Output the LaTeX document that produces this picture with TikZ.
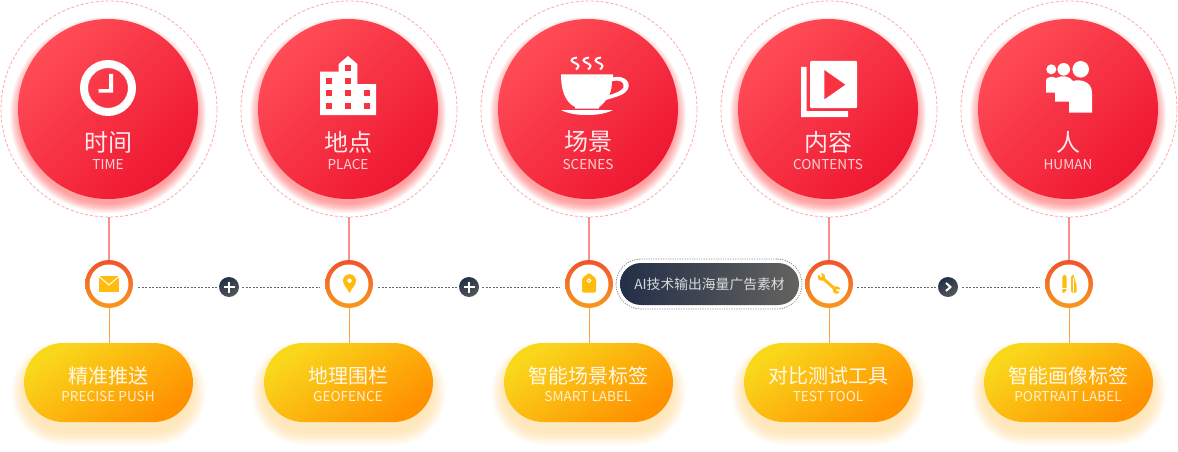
\documentclass[tikz,border=0pt]{standalone}
\usepackage{fontspec}
\setmainfont{Noto Sans CJK SC}
\definecolor{redA}{HTML}{FF4C56}
\definecolor{redB}{HTML}{EE1731}
\definecolor{yelA}{HTML}{F9D81C}
\definecolor{yelB}{HTML}{FF9000}
\definecolor{ringA}{HTML}{F0532B}
\definecolor{ringB}{HTML}{F9981C}
\definecolor{slateA}{HTML}{232F48}
\definecolor{slateB}{HTML}{63635F}
\definecolor{iconY}{HTML}{FFBB0E}
\definecolor{holeR}{HTML}{F8323F}
\begin{document}
\begin{tikzpicture}[x=1pt,y=-1pt,
        ringline/.style={draw=red!35!white,line width=.8pt,dash pattern=on 3pt off 2pt},
        bigdisc/.style={circle,inner sep=0,minimum size=180pt,top color=redA,bottom color=redB,shading angle=45},
        midring/.style={circle,inner sep=0,minimum size=48pt,top color=ringA,bottom color=ringB},
        midhole/.style={circle,inner sep=0,minimum size=39pt,fill=white},
        pilltag/.style={rounded corners=39.5pt,inner sep=0,minimum width=169pt,minimum height=79pt,top color=yelA,bottom color=yelB,shading angle=35},
        joinbtn/.style={circle,inner sep=0,minimum size=20pt,left color=slateA,right color=slateB!80!slateA,shading angle=30},
        titletxt/.style={text=white,text opacity=.9,font=\fontsize{24}{24}\selectfont,inner sep=0},
        subtxt/.style={text=white,text opacity=.8,font=\fontsize{13.6}{14}\selectfont,inner sep=0},
        pilltxt/.style={text=white,text opacity=.9,font=\fontsize{20}{20}\selectfont,inner sep=0},
        uplink/.style={draw=red!45!white,line width=1.5pt},
        lowlink/.style={draw=orange!75!white,line width=1pt},
        dotlink/.style={draw=black!60,line width=1pt,dash pattern=on 2pt off 1.5pt}
    ]
    \useasboundingbox (0,0) rectangle (1178,452);
    % five columns
    \foreach \i/\x/\tt/\st/\pt/\qt in {1/108/时间/TIME/精准推送/PRECISE PUSH,
            2/348/地点/PLACE/地理围栏/GEOFENCE,
            3/588/场景/SCENES/智能场景标签/SMART LABEL,
            4/828/内容/CONTENTS/对比测试工具/TEST TOOL,
            5/1068/人/HUMAN/智能画像标签/PORTRAIT LABEL}{
        \node[circle,inner sep=0,minimum size=216pt,ringline] (ring\i) at (\x+1,109) {};
        \foreach \k in {9,8,...,0}
            \fill[red!80!white,opacity=.06] (\x,115) circle ({89+\k});
        \node[bigdisc] (disc\i) at (\x,109) {};
        \node[titletxt] (title\i) at (\x,142) {\tt};
        \node[subtxt] (sub\i) at (\x,165) {\st};
        \foreach \k in {24,23,...,0}
            \fill[orange!70!yellow,opacity=.012,rounded corners={39.5+\k*.55}]
                ({\x+.5-84.5-\k*.55},{393-39.5-\k*.55}) rectangle ({\x+.5+84.5+\k*.55},{393+39.5+\k*.55});
        \node[pilltag] (pill\i) at (\x+.5,382.5) {};
        \node[pilltxt] (ptitle\i) at (\x,375.5) {\pt};
        \node[subtxt] (psub\i) at (\x,397) {\qt};
        \node[midring] (mid\i) at (\x+1,284) {};
        \draw[uplink] (mid\i |- ring\i.south) -- (mid\i.north);
        \draw[lowlink] (mid\i.south) -- (mid\i |- pill\i.north);
        \node[midhole] (hole\i) at (mid\i) {};
    }
    % buttons between the columns
    \node[joinbtn] (join1) at (229,287) {};
    \node[joinbtn] (join2) at (469,287) {};
    \node[joinbtn] (join3) at (948,287) {};
    \foreach \i in {1,2}
        \draw[white,line width=2pt] ([xshift=-5.5pt]join\i.center) -- ([xshift=5.5pt]join\i.center)
            ([yshift=-5.5pt]join\i.center) -- ([yshift=5.5pt]join\i.center);
    \draw[white,line width=2pt] (946,283) -- (950.5,287) -- (946,291);
    \draw[dotlink,shorten <=5pt] (mid1.east |- join1) -- (join1.west);
    \draw[dotlink,shorten <=3pt,shorten >=5pt] (join1.east) -- (mid2.west |- join1);
    \draw[dotlink,shorten <=5pt] (mid2.east |- join2) -- (join2.west);
    \draw[dotlink,shorten <=3pt,shorten >=5pt] (join2.east) -- (mid3.west |- join2);
    \draw[dotlink,shorten <=4pt] (mid4.east |- join3) -- (join3.west);
    \draw[dotlink,shorten <=4pt,shorten >=5pt] (join3.east) -- (mid5.west |- join3);
    % dark label
    \node[rounded corners=21pt,inner sep=0,minimum width=179pt,minimum height=42pt,left color=slateA,right color=slateB,text=white,text opacity=.8,font=\fontsize{13.8}{14}\selectfont] (ailabel) at (709.5,284) {AI技术输出海量广告素材};
    \node[rounded corners=25pt,inner sep=0,minimum width=186pt,minimum height=50pt,draw=black!45,line width=.8pt,dash pattern=on 1.2pt off 1.2pt] (aiframe) at (709,284) {};
    % clock
    \draw[white,line width=8pt] (108,88) circle (24);
    \fill[white] (109,74) rectangle (113,92.5) (98.5,89) rectangle (113,92.5);
    % building
    \fill[white] (320,115) -- (320,71.7) -- (338.7,71.7) -- (338.7,64) -- (348,56) -- (357.3,64) -- (357.3,84) -- (376,84) -- (376,115) -- cycle;
    \foreach \wx/\wy in {329/80.7,329/93.3,329/105.7,348/68.3,348/80.7,348/93.3,348/105.7,366.7/93.3,366.7/105.7}
        \fill[holeR] (\wx-3,\wy-3) rectangle (\wx+3,\wy+3);
    % cup
    \fill[white] (561,74.3) -- (613,74.3) -- (613,77.5) .. controls (622,75) and (630,80) .. (628.5,87) .. controls (627,95) and (615,97) .. (606,100) .. controls (604,103) and (601,106) .. (599,107) -- (599,108.5) -- (575,108.5) -- (575,107) .. controls (565,102) and (561,90) .. cycle;
    \fill[holeR] (612,81.5) .. controls (618,79) and (625,82) .. (623.5,87) .. controls (622,91) and (615,93) .. (609.5,95) .. controls (611,91) and (612,87) .. cycle;
    \fill[white] (561,110) -- (613,110) .. controls (605,114) and (596,115) .. (587,115) .. controls (578,115) and (569,114) .. cycle;
    \foreach \sx in {575,587,599}
        \draw[white,line width=2pt] (\sx+2,57.5) .. controls (\sx-7,59) and (\sx-3,62) .. (\sx,63) .. controls (\sx+5,65) and (\sx+4,67) .. (\sx+1,69.5);
    % contents
    \fill[white] (801,67) -- (806.5,67) -- (806.5,111) -- (848,111) -- (848,117) -- (801,117) -- cycle;
    \fill[white,rounded corners=1pt] (810,61) rectangle (857,108);
    \fill[holeR] (824.3,70) -- (845.3,84.7) -- (824.3,99.3) -- cycle;
    % human
    \fill[white] (1080.7,69.3) circle (8.3) (1063.7,69.3) circle (6.3) (1051.3,69.3) circle (5);
    \fill[white] (1046,92.7) -- (1046,80) .. controls (1046,77.5) and (1053,75.5) .. (1056,78) .. controls (1062,75) and (1070,76) .. (1073,81) .. controls (1080,79) and (1092,81) .. (1092,93) -- (1092,112.7) -- (1069,112.7) -- (1069,101.7) -- (1055,101.7) -- (1055,92.7) -- cycle;
    % small icons
    \fill[iconY] (99,275.7) rectangle (119,292);
    \draw[white,line width=1pt] (99,276.5) -- (109,285) -- (119,276.5);
    \fill[iconY] (349.5,293) .. controls (347,288) and (343,285) .. (343,280.7) arc (180:360:6.5) .. controls (356,285) and (352,288) .. cycle;
    \fill[white] (349.5,280.7) circle (2.2);
    \fill[iconY,rounded corners=1.5pt] (582,292.7) -- (582,278.5) -- (589,272.7) -- (596,278.5) -- (596,292.7) -- cycle;
    \draw[white,line width=1pt] (589,280.7) circle (1.8);
    \draw[iconY,line width=3pt] (822,277.5) -- (836,290);
    \fill[iconY] (821.5,277) circle (3.8) (836.5,290) circle (3.8);
    \draw[white,line width=2pt] (819,272.5) -- (821.5,277);
    \draw[white,line width=2pt] (841,291) -- (836.5,290);
    \fill[iconY,rounded corners=1pt] (1062.3,293) -- (1062.3,277) -- (1064.5,274) -- (1066.7,277) -- (1066.7,289) -- (1064.5,293) -- cycle;
    \fill[iconY,rounded corners=1pt] (1071,292.5) -- (1071,277) -- (1073,274) -- (1075,280) -- (1076.7,286) -- (1076.7,292.5) -- cycle;
    \draw[white,line width=.4pt] (1062.3,288.5) -- (1066.7,288.5) (1073.5,278) -- (1073.5,292);
\end{tikzpicture}
\end{document}
